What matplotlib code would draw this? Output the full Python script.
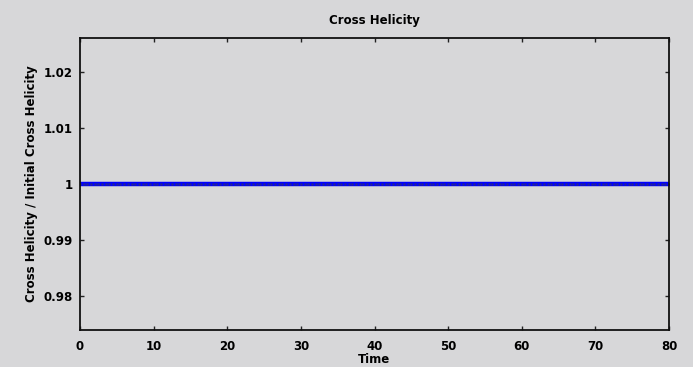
import numpy as np
import matplotlib
matplotlib.use("Agg")
import matplotlib.pyplot as plt

# Sampled simulation output: time and normalised cross helicity
time = np.arange(0, 80.5, 0.5)
helicity_ratio = [
    1.0, 1.0, 1.0, 1.0, 1.0, 1.0, 1.0, 1.0, 1.0, 1.0, 1.0, 1.0, 1.0, 1.0, 1.0, 1.0,
    1.0, 1.0, 1.0, 1.0, 1.0, 1.0, 1.0, 1.0, 1.0, 1.0, 1.0, 1.0, 1.0, 1.0, 1.0, 1.0,
    1.0, 1.0, 1.0, 1.0, 1.0, 1.0, 1.0, 1.0, 1.0, 1.0, 1.0, 1.0, 1.0, 1.0, 1.0, 1.0,
    1.0, 1.0, 1.0, 1.0, 1.0, 1.0, 1.0, 1.0, 1.0, 1.0, 1.0, 1.0, 1.0, 1.0, 1.0, 1.0,
    1.0, 1.0, 1.0, 1.0, 1.0, 1.0, 1.0, 1.0, 1.0, 1.0, 1.0, 1.0, 1.0, 1.0, 1.0, 1.0,
    1.0, 1.0, 1.0, 1.0, 1.0, 1.0, 1.0, 1.0, 1.0, 1.0, 1.0, 1.0, 1.0, 1.0, 1.0, 1.0,
    1.0, 1.0, 1.0, 1.0, 1.0, 1.0, 1.0, 1.0, 1.0, 1.0, 1.0, 1.0, 1.0, 1.0, 1.0, 1.0,
    1.0, 1.0, 1.0, 1.0, 1.0, 1.0, 1.0, 1.0, 1.0, 1.0, 1.0, 1.0, 1.0, 1.0, 1.0, 1.0,
    1.0, 1.0, 1.0, 1.0, 1.0, 1.0, 1.0, 1.0, 1.0, 1.0, 1.0, 1.0, 1.0, 1.0, 1.0, 1.0,
    1.0, 1.0, 1.0, 1.0, 1.0, 1.0, 1.0, 1.0, 1.0, 1.0, 1.0, 1.0, 1.0, 1.0, 1.0, 1.0,
    1.0,
]
x_ticks = [0, 10, 20, 30, 40, 50, 60, 70, 80]
y_ticks = [0.98, 0.99, 1.0, 1.01, 1.02]
y_tick_labels = ["0.98", "0.99", "1", "1.01", "1.02"]

bg = "#d7d7d9"
plt.rcParams["font.family"] = ["DejaVu Sans"]
plt.rcParams["font.weight"] = "bold"

fig = plt.figure(figsize=(6.93, 3.67), dpi=100, facecolor=bg)
ax = fig.add_axes([80 / 693, 1 - 330 / 367, 589 / 693, 292 / 367], facecolor=bg)

ax.plot(time, helicity_ratio, color="#0000ff", linewidth=3.2,
        marker=".", markersize=3, markeredgecolor="#20209a",
        markerfacecolor="#20209a", markeredgewidth=0.4)

ax.set_xlim(0, 80)
ax.set_ylim(0.974, 1.026)
ax.set_xticks(x_ticks)
ax.set_xticklabels([str(t) for t in x_ticks])
ax.set_yticks(y_ticks)
ax.set_yticklabels(y_tick_labels)

ax.tick_params(direction="in", top=True, right=True, length=3, width=1,
               labelsize=8.5, color="#222222")
ax.tick_params(axis="x", pad=7)
ax.tick_params(axis="y", pad=5)
for lab in ax.get_xticklabels() + ax.get_yticklabels():
    lab.set_fontweight("bold")
for sp in ax.spines.values():
    sp.set_linewidth(1.3)
    sp.set_color("#111111")

ax.set_title("Cross Helicity", fontsize=8.5, fontweight="bold", pad=10)
ax.set_xlabel("Time", fontsize=8.5, fontweight="bold", labelpad=0)
ax.set_ylabel("Cross Helicity / Initial Cross Helicity", fontsize=8.5,
              fontweight="bold", labelpad=4)

fig.savefig("out.png", dpi=100, facecolor=bg)
